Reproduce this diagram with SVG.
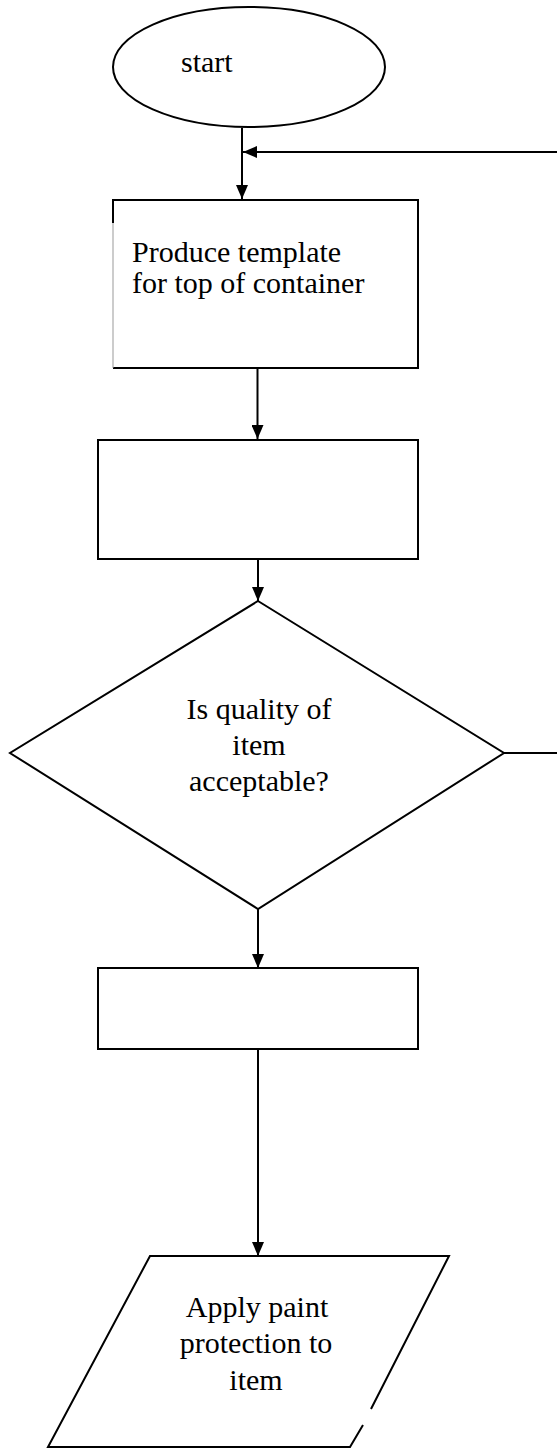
<svg xmlns="http://www.w3.org/2000/svg" width="557" height="1448" viewBox="0 0 557 1448">
<style>
.s{fill:#fff;stroke:#000;stroke-width:2}
.t{font-family:"Liberation Serif","Times New Roman",serif;font-size:30px;fill:#000}
.c{text-anchor:middle}
.l{fill:none;stroke:#000;stroke-width:2}
</style>
<defs>
<marker id="ah" viewBox="0 0 14 12" refX="14" refY="6" markerWidth="14" markerHeight="12" markerUnits="userSpaceOnUse" orient="auto">
<path d="M0,0 L14,6 L0,12 z" fill="#000"/>
</marker>
</defs>
<rect width="557" height="1448" fill="#fff"/>
<g id="connectors">
<line class="l" x1="242" y1="128" x2="242" y2="199" marker-end="url(#ah)"/>
<line class="l" x1="557" y1="152" x2="243" y2="152" marker-end="url(#ah)"/>
<line class="l" x1="257.5" y1="368" x2="257.5" y2="439" marker-end="url(#ah)"/>
<line class="l" x1="258" y1="559" x2="258" y2="601" marker-end="url(#ah)"/>
<line class="l" x1="504" y1="753" x2="557" y2="753"/>
<line class="l" x1="258" y1="909" x2="258" y2="968" marker-end="url(#ah)"/>
<line class="l" x1="258" y1="1049" x2="258" y2="1256" marker-end="url(#ah)"/>
</g>
<g id="start">
<ellipse class="s" cx="249" cy="67" rx="136" ry="60"/>
<text class="t" x="181" y="72">start</text>
</g>
<g id="produce-template">
<rect x="113" y="200" width="305" height="168" fill="#fff"/>
<path class="l" d="M113,223 V200 H418 V368 H113"/>
<path d="M113,223 V368" fill="none" stroke="#999" stroke-width="1"/>
<text class="t"><tspan x="132" y="262">Produce template</tspan><tspan x="132" y="293">for top of container</tspan></text>
</g>
<g id="box2">
<rect class="s" x="98" y="440" width="320" height="119"/>
</g>
<g id="quality-check">
<polygon class="s" points="258,601 504,753 258,909 10,753"/>
<text class="t c"><tspan x="259" y="719">Is quality of</tspan><tspan x="259" y="755">item</tspan><tspan x="259" y="791">acceptable?</tspan></text>
</g>
<g id="box3">
<rect class="s" x="98" y="968" width="320" height="81"/>
</g>
<g id="apply-paint">
<polygon points="150,1256 449,1256 350,1447 48,1447" fill="#fff"/>
<path class="l" d="M371,1409 L449,1256 H150 L48,1447 H350 L363,1425"/>
<text class="t c"><tspan x="257" y="1317">Apply paint</tspan><tspan x="256" y="1353">protection to</tspan><tspan x="256" y="1390">item</tspan></text>
</g>
</svg>
